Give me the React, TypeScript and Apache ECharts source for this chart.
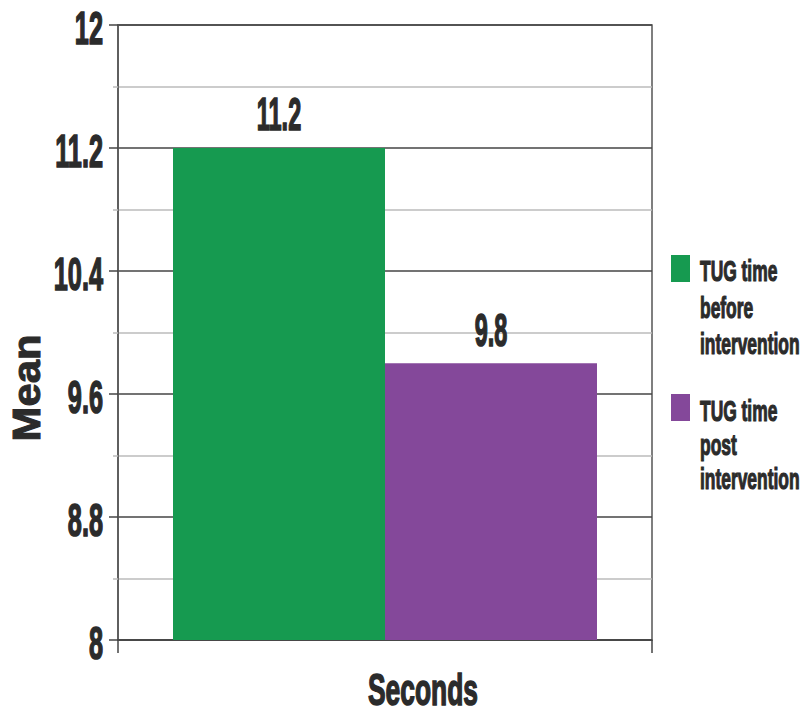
import React, { useEffect, useRef } from "react";
import * as echarts from "echarts";

const categories = ["Seconds"];
const seriesNames = ["TUG time before intervention", "TUG time post intervention"];
const legendLines = [
  ["TUG time", "before", "intervention"],
  ["TUG time", "post", "intervention"],
];
const beforeValues = [11.2];
const postValues = [9.8];
const yTicks = [8, 8.8, 9.6, 10.4, 11.2, 12];
const xTitle = "Seconds";
const yTitle = "Mean";

const FONT = "'Liberation Sans', Arial, sans-serif";
const TEXT = "#2b2b2b";
const GREEN = "#169a50";
const PURPLE = "#84489a";

export default function App() {
  const ref = useRef<HTMLDivElement>(null);
  useEffect(() => {
    if (!ref.current) return;
    const chart = echarts.init(ref.current, null, { renderer: "svg" });
    const barLabel = { show: false };
    chart.setOption({
      animation: false,
      backgroundColor: "#ffffff",
      textStyle: { fontFamily: FONT },
      grid: { left: 118, right: 160, top: 25, bottom: 74, show: true, borderColor: "#555", borderWidth: 1.5 },
      xAxis: {
        type: "category",
        data: categories,
        axisLine: { lineStyle: { color: "#444", width: 1.5 } },
        axisTick: { show: true, length: 13, lineStyle: { color: "#444", width: 1.5 } },
        axisLabel: { show: false },
      },
      yAxis: {
        type: "value",
        min: yTicks[0],
        max: yTicks[yTicks.length - 1],
        interval: yTicks[1] - yTicks[0],
        axisLine: { show: true, lineStyle: { color: "#555", width: 1.5 } },
        axisTick: { show: true, length: 9, lineStyle: { color: "#444", width: 1.5 } },
        minorTick: { show: true, splitNumber: 2, length: 5, lineStyle: { color: "#bbb", width: 1.5 } },
        splitLine: { show: true, lineStyle: { color: "#444", width: 1.5 } },
        minorSplitLine: { show: true, lineStyle: { color: "#bbb", width: 1.5 } },
        axisLabel: { show: false },
      },
      series: [
        {
          name: seriesNames[0],
          type: "bar",
          data: beforeValues,
          barWidth: 212,
          barGap: "0%",
          itemStyle: { color: GREEN },
          label: barLabel,
        },
        {
          name: seriesNames[1],
          type: "bar",
          data: postValues,
          barWidth: 212,
          barGap: "0%",
          itemStyle: { color: PURPLE },
          label: barLabel,
        },
      ],
    });

    const graphics: any[] = [];
    // y tick labels, positioned through the y axis scale
    yTicks.forEach((t) => {
      const py = chart.convertToPixel({ yAxisIndex: 0 }, t) as number;
      graphics.push({
        type: "text",
        x: 103,
        y: py + 3,
        scaleX: 0.55,
        style: {
          text: String(t),
          fontFamily: FONT,
          fontWeight: "bold",
          fontSize: 46,
          fill: TEXT,
          stroke: TEXT,
          lineWidth: 1.6,
          align: "right",
          verticalAlign: "middle",
        },
      });
    });
    // value labels from the bar layouts
    const model = (chart as any).getModel();
    [beforeValues, postValues].forEach((vals, si) => {
      const data = model.getSeriesByIndex(si).getData();
      vals.forEach((v, i) => {
        const lay = data.getItemLayout(i);
        const top = Math.min(lay.y, lay.y + lay.height);
        graphics.push({
          type: "text",
          x: lay.x + lay.width / 2,
          y: top - 34,
          scaleX: 0.5,
          style: {
            text: String(v),
            fontFamily: FONT,
            fontWeight: "bold",
            fontSize: 47,
            fill: TEXT,
            stroke: TEXT,
            lineWidth: 1.6,
            align: "center",
            verticalAlign: "middle",
          },
        });
      });
    });
    // legend
    const legendColors = [GREEN, PURPLE];
    const legendTops = [255, 394];
    const legendLineH = [36.5, 34.2];
    const legendTextTop = [252.7, 393.6];
    legendLines.forEach((lines, i) => {
      graphics.push({
        type: "rect",
        shape: { x: 671, y: legendTops[i], width: 19, height: 27 },
        style: { fill: legendColors[i] },
      });
      graphics.push({
        type: "text",
        x: 700,
        y: legendTextTop[i],
        scaleX: 0.58,
        style: {
          text: lines.join("\n"),
          fontFamily: FONT,
          fontWeight: "bold",
          fontSize: 30,
          lineHeight: legendLineH[i],
          fill: TEXT,
          stroke: TEXT,
          lineWidth: 1.2,
          align: "left",
          verticalAlign: "top",
        },
      });
    });
    // axis titles
    graphics.push({
      type: "text",
      x: 423,
      y: 690,
      scaleX: 0.66,
      scaleY: 1.12,
      style: {
        text: xTitle,
        fontFamily: FONT,
        fontWeight: "bold",
        fontSize: 40,
        fill: TEXT,
        stroke: TEXT,
        lineWidth: 1.4,
        align: "center",
        verticalAlign: "middle",
      },
    });
    graphics.push({
      type: "text",
      x: 26.5,
      y: 388,
      rotation: Math.PI / 2,
      scaleX: 1.1,
      style: {
        text: yTitle,
        fontFamily: FONT,
        fontWeight: "bold",
        fontSize: 38,
        fill: TEXT,
        stroke: TEXT,
        lineWidth: 1,
        align: "center",
        verticalAlign: "middle",
      },
    });
    chart.setOption({ graphic: graphics });
    return () => chart.dispose();
  }, []);
  return <div ref={ref} style={{ width: 812, height: 714, margin: -8 }} />;
}
